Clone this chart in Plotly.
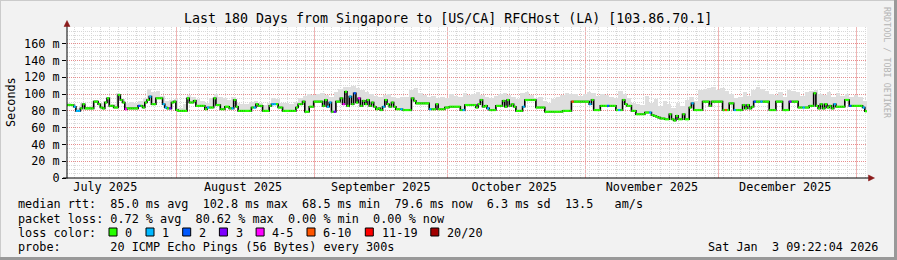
import math
import pandas as pd
import plotly.graph_objects as go

# ---------------- data ----------------
END = pd.Timestamp("2026-01-03 09:22:04")
START = END - pd.Timedelta(days=180)
STEP_H = 12  # hours per median sample

median_ms = [
    87, 87, 87, 85, 80, 80, 83, 88, 83, 83, 83, 83, 91, 91, 88, 84, 83, 90, 95, 86,
    86, 84, 84, 99, 93, 90, 82, 83, 83, 83, 83, 83, 86, 86, 84, 90, 93, 97, 88, 88,
    95, 95, 95, 88, 84, 83, 83, 90, 91, 81, 80, 80, 80, 80, 95, 90, 90, 92, 86, 86,
    86, 86, 82, 84, 84, 84, 95, 87, 87, 82, 82, 85, 85, 83, 83, 93, 85, 80, 80, 80,
    80, 80, 80, 84, 84, 88, 86, 86, 80, 80, 80, 86, 88, 88, 88, 84, 84, 80, 80, 80,
    80, 80, 80, 84, 88, 88, 91, 79, 79, 85, 85, 91, 91, 91, 91, 86, 93, 85, 90, 79,
    79, 91, 91, 95, 88, 102.8, 86, 97, 88, 101, 90, 95, 86, 92, 88, 93, 86, 90, 85, 82,
    83, 81, 85, 93, 88, 85, 90, 85, 82, 82, 82, 81, 81, 81, 81, 95, 92, 89, 89, 89,
    89, 89, 89, 82, 82, 82, 88, 82, 82, 82, 84, 84, 85, 85, 85, 85, 85, 81, 81, 87,
    87, 87, 87, 87, 84, 88, 93, 85, 86, 83, 81, 81, 81, 86, 86, 86, 92, 85, 93, 86,
    88, 85, 80, 80, 80, 85, 93, 93, 93, 93, 93, 84, 84, 84, 84, 79, 79, 79, 79, 79,
    79, 79, 79, 80, 80, 80, 80, 91, 91, 91, 91, 91, 91, 91, 91, 88, 93, 81, 81, 81,
    86, 86, 86, 86, 86, 86, 86, 81, 81, 81, 93, 88, 86, 86, 80, 80, 76, 76, 76, 76,
    78, 78, 78, 75, 74, 73, 72, 71, 71, 70, 70, 76, 70, 68.5, 74, 70, 70, 76, 70, 70,
    84, 89, 81, 81, 81, 81, 91, 91, 91, 86, 91, 91, 91, 91, 91, 81, 81, 81, 89, 89,
    81, 81, 81, 81, 87, 83, 87, 83, 85, 91, 91, 91, 91, 91, 91, 91, 81, 81, 81, 91,
    91, 91, 81, 81, 81, 91, 91, 91, 91, 84, 84, 84, 84, 84, 86, 86, 101, 86, 83, 88,
    83, 88, 84, 86, 83, 88, 85, 85, 85, 85, 93, 93, 86, 86, 86, 86, 86, 86, 84, 79.6,
]

# daily upper edge of the smoke (ms)
smoke_top_daily = [
    90, 88, 84, 89, 85, 86, 93, 90, 92, 96, 88, 101, 94, 90, 91, 90, 92, 95, 106, 103,
    104, 98, 92, 93, 94, 84, 88, 99, 96, 94, 92, 90, 95, 100, 96, 95, 93, 97, 90, 88,
    88, 91, 92, 90, 87, 90, 95, 94, 90, 89, 88, 91, 95, 98, 100, 99, 100, 101, 99, 97,
    103, 106, 108, 109, 110, 107, 105, 102, 100, 98, 97, 99, 100, 97, 95, 96, 97, 105, 107, 101,
    99, 96, 98, 95, 97, 95, 100, 98, 96, 101, 99, 100, 102, 99, 96, 95, 98, 100, 101, 99,
    96, 94, 101, 103, 99, 95, 97, 92, 90, 94, 96, 99, 101, 100, 100, 98, 100, 103, 101, 98,
    100, 99, 97, 95, 104, 100, 95, 90, 88, 87, 98, 90, 94, 86, 92, 88, 84, 90, 86, 93,
    96, 92, 105, 106, 107, 108, 105, 107, 104, 100, 95, 97, 102, 98, 105, 108, 106, 104, 100, 99,
    102, 97, 105, 104, 103, 98, 102, 104, 105, 100, 99, 102, 97, 101, 98, 100, 96, 99, 97, 92,
]

# sample indices by packet-loss class (all others: 0 loss)
loss_1 = [3, 4, 5, 37, 43, 44, 63, 74, 84, 92, 93, 117, 118, 127, 142, 150, 163, 178,
          189, 205, 235, 248, 262, 281, 300, 312, 331, 345, 358]
loss_2 = [32, 129, 243, 309, 352]
loss_3 = [46, 120, 325]
loss_4_5 = [26, 124, 131]
loss_6_10 = [227, 296]

loss_labels = ["0", "1", "2", "3", "4-5", "6-10", "11-19", "20/20"]
loss_colors = ["#26ff00", "#00b8ff", "#0059ff", "#7e00ff", "#ff00ff", "#ff5500", "#ff0000", "#a10000"]

y_tickvals = [0, 20, 40, 60, 80, 100, 120, 140, 160]
y_ticktext = ["0", "20 m", "40 m", "60 m", "80 m", "100 m", "120 m", "140 m", "160 m"]

month_labels = ["July 2025", "August 2025", "September 2025", "October 2025",
                "November 2025", "December 2025"]
month_label_dates = ["2025-07-16", "2025-08-16", "2025-09-16", "2025-10-16",
                     "2025-11-16", "2025-12-16"]
month_starts = ["2025-08-01", "2025-09-01", "2025-10-01", "2025-11-01",
                "2025-12-01", "2026-01-01"]

title = "Last 180 Days from Singapore to [US/CA] RFCHost (LA) [103.86.70.1]"
legend_line1 = "median rtt:  85.0 ms avg  102.8 ms max  68.5 ms min  79.6 ms now  6.3 ms sd  13.5   am/s"
legend_line2 = "packet loss: 0.72 % avg  80.62 % max  0.00 % min  0.00 % now"
legend_line3 = "loss color:"
legend_line4 = "probe:       20 ICMP Echo Pings (56 Bytes) every 300s"
stamp = "Sat Jan  3 09:22:04 2026"
watermark = "RRDTOOL / TOBI OETIKER"

# ---------------- geometry ----------------
W, H = 897, 260
L, R, T, B = 67, 867, 27, 178   # plot area in pixels
MONO = "DejaVu Sans Mono"
FS = 11.8
MINOR_GRID = "#d8d8d8"
MAJOR_GRID = "#e68e8e"
MAJOR_VGRID = "#f0b4b4"
GRID_DASH = "1px,1px"


def px(x):
    return (x - L) / (R - L)


def py(y):
    return (B - y) / (B - T)


def nb(s):
    return s.replace(" ", "\u00a0")


def date_paper(d):
    """paper x of a date, snapped to a pixel centre so dotted lines stay crisp"""
    frac = (pd.Timestamp(d) - START) / (END - START)
    xpix = L + frac * (R - L)
    return px(math.floor(xpix) + 0.5)


n = len(median_ms)
step = pd.Timedelta(hours=STEP_H)
t = [START + i * step for i in range(n)]
t_end = [START + (i + 1) * step for i in range(n)]

fig = go.Figure()

# smoke
smoke_top = [max(smoke_top_daily[i // 2], median_ms[i]) for i in range(n)]
fig.add_trace(go.Bar(
    x=[ti + step / 2 for ti in t],
    y=[smoke_top[i] - median_ms[i] for i in range(n)],
    base=median_ms,
    width=STEP_H * 3600 * 1000 * 1.02,
    marker=dict(color="#dedede", line=dict(width=0)),
    hoverinfo="skip",
))

# black median step line
fig.add_trace(go.Scatter(
    x=t + [END], y=median_ms + [median_ms[-1]],
    mode="lines", line=dict(color="#000000", width=1.6, shape="hv"),
    hoverinfo="skip",
))

# coloured segments by loss
cls = [0] * n
for k, idxs in enumerate([loss_1, loss_2, loss_3, loss_4_5, loss_6_10], start=1):
    for i in idxs:
        cls[i] = k
for k, col in enumerate(loss_colors):
    xs, ys = [], []
    for i in range(n):
        if cls[i] == k:
            xs += [t[i], t_end[i], None]
            ys += [median_ms[i], median_ms[i], None]
    if xs:
        fig.add_trace(go.Scatter(x=xs, y=ys, mode="lines",
                                 line=dict(color=col, width=2.2), hoverinfo="skip"))

shapes = []
# vertical minor grid every 2 days
first = START.normalize()
minor = pd.date_range(first, END, freq="2D")
for d in minor:
    if START < d < END:
        xp = date_paper(d)
        shapes.append(dict(type="line", xref="paper", yref="paper", x0=xp, x1=xp, y0=0, y1=1,
                           line=dict(color=MINOR_GRID, width=1, dash=GRID_DASH), layer="below"))
for d in month_starts:
    xp = date_paper(d)
    shapes.append(dict(type="line", xref="paper", yref="paper", x0=xp, x1=xp, y0=0, y1=1,
                       line=dict(color=MAJOR_VGRID, width=1), layer="below"))
# axes
shapes.append(dict(type="line", xref="paper", yref="paper", x0=px(67), x1=px(67), y0=py(178.5), y1=py(23),
                   line=dict(color="#000000", width=1)))
shapes.append(dict(type="line", xref="paper", yref="paper", x0=px(63), x1=px(870), y0=py(178), y1=py(178),
                   line=dict(color="#000000", width=1)))
# arrows
shapes.append(dict(type="path", xref="paper", yref="paper",
                   path=f"M {px(64)},{py(26.5)} L {px(70)},{py(26.5)} L {px(67)},{py(20.5)} Z",
                   fillcolor="#8b1a1a", line=dict(color="#8b1a1a", width=0.5)))
shapes.append(dict(type="path", xref="paper", yref="paper",
                   path=f"M {px(868.5)},{py(175)} L {px(868.5)},{py(181)} L {px(874.5)},{py(178)} Z",
                   fillcolor="#8b1a1a", line=dict(color="#8b1a1a", width=0.5)))
# frame
shapes.append(dict(type="line", xref="paper", yref="paper", x0=px(0), x1=px(897), y0=py(0.5), y1=py(0.5),
                   line=dict(color="#cbcbcb", width=1)))
shapes.append(dict(type="line", xref="paper", yref="paper", x0=px(0.5), x1=px(0.5), y0=py(0), y1=py(260),
                   line=dict(color="#cbcbcb", width=1)))
shapes.append(dict(type="line", xref="paper", yref="paper", x0=px(895.5), x1=px(895.5), y0=py(0), y1=py(260),
                   line=dict(color="#999999", width=3)))
shapes.append(dict(type="line", xref="paper", yref="paper", x0=px(0), x1=px(897), y0=py(258.5), y1=py(258.5),
                   line=dict(color="#999999", width=3)))

# legend colour boxes
text_x = [123.3, 160.3, 197.0, 233.7, 270.4, 321.3, 379.6, 445.1]
for xt, col in zip(text_x, loss_colors):
    bx = xt - 14.3
    shapes.append(dict(type="rect", xref="paper", yref="paper",
                       x0=px(bx), x1=px(bx + 8), y0=py(236), y1=py(228),
                       fillcolor=col, line=dict(color="#000000", width=1)))

ann = []


def text(x, y, s, size=FS, xanchor="left", color="#000000", angle=0, yanchor="middle"):
    ann.append(dict(xref="paper", yref="paper", x=px(x), y=py(y), text=nb(s), showarrow=False,
                    xanchor=xanchor, yanchor=yanchor, textangle=angle,
                    font=dict(family=MONO, size=size, color=color)))


text(448, 18.5, title, size=13.3, xanchor="center")
text(16, 204.5, legend_line1)
text(16, 218.5, legend_line2)
text(16, 232.5, legend_line3)
for xt, lab in zip(text_x, loss_labels):
    text(xt, 232.5, lab)
text(16, 246.5, legend_line4)
text(880, 246.5, stamp, xanchor="right")
text(887, 5, watermark, size=8.4, color="#b4b4b4", angle=90, xanchor="center", yanchor="top")
text(10.5, 102.5, "Seconds", xanchor="center", angle=-90)

fig.update_layout(
    width=W, height=H,
    margin=dict(l=L, r=W - R, t=T, b=H - B, pad=0),
    paper_bgcolor="#f2f2f2", plot_bgcolor="#ffffff",
    showlegend=False, bargap=0,
    shapes=shapes, annotations=ann,
    xaxis=dict(type="date", range=[START, END], showgrid=False, zeroline=False, showline=False,
               tickmode="array", tickvals=month_label_dates, ticktext=month_labels,
               ticks="", tickfont=dict(family=MONO, size=FS, color="#000000")),
    yaxis=dict(range=[0, 180], tickmode="array", tickvals=y_tickvals, ticktext=y_ticktext,
               showgrid=True, gridcolor=MAJOR_GRID, griddash=GRID_DASH, gridwidth=1,
               minor=dict(dtick=5, showgrid=True, gridcolor=MINOR_GRID, griddash=GRID_DASH, gridwidth=1),
               zeroline=False, showline=False, ticks="outside", ticklen=4, tickcolor="#000000",
               tickfont=dict(family=MONO, size=FS, color="#000000")),
)

fig.write_html("out.html")
